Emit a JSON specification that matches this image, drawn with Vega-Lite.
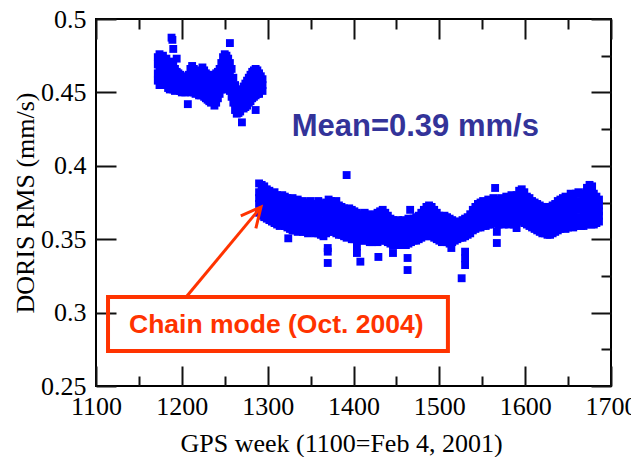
{
"$schema":"https://vega.github.io/schema/vega-lite/v6.json",
"width":515,"height":367,
"autosize":{"type":"none"},
"padding":{"left":96,"top":19,"right":20,"bottom":71},
"background":"white",
"config":{"view":{"stroke":"#000","strokeWidth":2},"axis":{"domain":false,"grid":false,"tickColor":"#111","tickWidth":2,"labelFont":"Liberation Serif","labelFontSize":26,"labelColor":"#000","titleFont":"Liberation Serif","titleFontSize":26,"titleFontWeight":"normal","titleColor":"#000","labelOverlap":false,"labelFlush":false}},
"datasets":{
"pts":[
{"w":1172,"r":0.474},{"w":1172,"r":0.469},{"w":1172,"r":0.463},{"w":1172,"r":0.458},
{"w":1174,"r":0.476},{"w":1174,"r":0.470},{"w":1174,"r":0.465},{"w":1174,"r":0.460},{"w":1174,"r":0.455},
{"w":1176,"r":0.472},{"w":1176,"r":0.466},{"w":1176,"r":0.461},{"w":1176,"r":0.456},
{"w":1178,"r":0.475},{"w":1178,"r":0.468},{"w":1178,"r":0.462},{"w":1178,"r":0.457},
{"w":1180,"r":0.470},{"w":1180,"r":0.464},{"w":1180,"r":0.459},{"w":1180,"r":0.455},
{"w":1182,"r":0.473},{"w":1182,"r":0.466},{"w":1182,"r":0.460},{"w":1182,"r":0.456},
{"w":1184,"r":0.469},{"w":1184,"r":0.463},{"w":1184,"r":0.457},{"w":1184,"r":0.453},
{"w":1186,"r":0.467},{"w":1186,"r":0.461},{"w":1186,"r":0.456},{"w":1186,"r":0.452},
{"w":1188,"r":0.4873},{"w":1189,"r":0.4858},{"w":1188,"r":0.465},{"w":1188,"r":0.459},{"w":1188,"r":0.453},
{"w":1190,"r":0.4796},{"w":1190,"r":0.471},{"w":1190,"r":0.463},{"w":1190,"r":0.457},{"w":1190,"r":0.452},
{"w":1192,"r":0.466},{"w":1192,"r":0.460},{"w":1192,"r":0.455},{"w":1192,"r":0.451},
{"w":1194,"r":0.473},{"w":1194,"r":0.464},{"w":1194,"r":0.458},{"w":1194,"r":0.453},
{"w":1196,"r":0.463},{"w":1196,"r":0.457},{"w":1196,"r":0.452},
{"w":1198,"r":0.462},{"w":1198,"r":0.456},{"w":1198,"r":0.451},
{"w":1200,"r":0.460},{"w":1200,"r":0.455},{"w":1200,"r":0.450},
{"w":1202,"r":0.461},{"w":1202,"r":0.456},{"w":1202,"r":0.451},
{"w":1204,"r":0.459},{"w":1204,"r":0.454},{"w":1204,"r":0.450},
{"w":1206,"r":0.460},{"w":1206,"r":0.455},{"w":1206,"r":0.451},
{"w":1207,"r":0.442},
{"w":1208,"r":0.462},{"w":1208,"r":0.456},{"w":1208,"r":0.451},
{"w":1210,"r":0.466},{"w":1210,"r":0.460},{"w":1210,"r":0.454},{"w":1210,"r":0.450},
{"w":1212,"r":0.468},{"w":1212,"r":0.462},{"w":1212,"r":0.456},{"w":1212,"r":0.451},
{"w":1214,"r":0.466},{"w":1214,"r":0.460},{"w":1214,"r":0.455},{"w":1214,"r":0.450},
{"w":1216,"r":0.463},{"w":1216,"r":0.458},{"w":1216,"r":0.453},{"w":1216,"r":0.449},
{"w":1218,"r":0.461},{"w":1218,"r":0.456},{"w":1218,"r":0.451},
{"w":1220,"r":0.463},{"w":1220,"r":0.457},{"w":1220,"r":0.452},{"w":1220,"r":0.448},
{"w":1222,"r":0.465},{"w":1222,"r":0.459},{"w":1222,"r":0.453},{"w":1222,"r":0.448},
{"w":1224,"r":0.467},{"w":1224,"r":0.461},{"w":1224,"r":0.455},{"w":1224,"r":0.449},
{"w":1226,"r":0.465},{"w":1226,"r":0.459},{"w":1226,"r":0.453},{"w":1226,"r":0.447},
{"w":1228,"r":0.463},{"w":1228,"r":0.457},{"w":1228,"r":0.451},{"w":1228,"r":0.446},
{"w":1230,"r":0.462},{"w":1230,"r":0.456},{"w":1230,"r":0.450},{"w":1230,"r":0.445},
{"w":1232,"r":0.461},{"w":1232,"r":0.455},{"w":1232,"r":0.449},{"w":1232,"r":0.444},
{"w":1234,"r":0.460},{"w":1234,"r":0.454},{"w":1234,"r":0.448},{"w":1234,"r":0.443},
{"w":1236,"r":0.461},{"w":1236,"r":0.455},{"w":1236,"r":0.449},{"w":1236,"r":0.444},
{"w":1238,"r":0.462},{"w":1238,"r":0.455},{"w":1238,"r":0.448},{"w":1238,"r":0.441},
{"w":1240,"r":0.463},{"w":1240,"r":0.456},{"w":1240,"r":0.449},{"w":1240,"r":0.443},
{"w":1242,"r":0.464},{"w":1242,"r":0.457},{"w":1242,"r":0.451},{"w":1242,"r":0.446},
{"w":1244,"r":0.466},{"w":1244,"r":0.460},{"w":1244,"r":0.454},{"w":1244,"r":0.449},
{"w":1246,"r":0.470},{"w":1246,"r":0.464},{"w":1246,"r":0.458},{"w":1246,"r":0.452},
{"w":1248,"r":0.474},{"w":1248,"r":0.467},{"w":1248,"r":0.461},{"w":1248,"r":0.455},
{"w":1250,"r":0.476},{"w":1250,"r":0.469},{"w":1250,"r":0.462},{"w":1250,"r":0.456},{"w":1250,"r":0.452},
{"w":1252,"r":0.475},{"w":1252,"r":0.468},{"w":1252,"r":0.461},{"w":1252,"r":0.455},
{"w":1254,"r":0.473},{"w":1254,"r":0.466},{"w":1254,"r":0.460},{"w":1254,"r":0.454},
{"w":1256,"r":0.4836},{"w":1256,"r":0.470},{"w":1256,"r":0.463},{"w":1256,"r":0.457},{"w":1256,"r":0.451},
{"w":1258,"r":0.466},{"w":1258,"r":0.459},{"w":1258,"r":0.452},{"w":1258,"r":0.447},
{"w":1260,"r":0.460},{"w":1260,"r":0.454},{"w":1260,"r":0.448},{"w":1260,"r":0.443},
{"w":1262,"r":0.455},{"w":1262,"r":0.449},{"w":1262,"r":0.443},{"w":1262,"r":0.438},
{"w":1264,"r":0.452},{"w":1264,"r":0.446},{"w":1264,"r":0.441},{"w":1264,"r":0.4355},
{"w":1266,"r":0.450},{"w":1266,"r":0.445},{"w":1266,"r":0.440},{"w":1266,"r":0.436},
{"w":1268,"r":0.451},{"w":1268,"r":0.446},{"w":1268,"r":0.441},{"w":1268,"r":0.437},
{"w":1270,"r":0.452},{"w":1270,"r":0.447},{"w":1270,"r":0.442},{"w":1270,"r":0.4296},
{"w":1272,"r":0.454},{"w":1272,"r":0.448},{"w":1272,"r":0.443},{"w":1272,"r":0.439},
{"w":1274,"r":0.456},{"w":1274,"r":0.450},{"w":1274,"r":0.445},{"w":1274,"r":0.440},
{"w":1276,"r":0.458},{"w":1276,"r":0.452},{"w":1276,"r":0.446},{"w":1276,"r":0.441},
{"w":1278,"r":0.460},{"w":1278,"r":0.454},{"w":1278,"r":0.448},{"w":1278,"r":0.443},
{"w":1280,"r":0.462},{"w":1280,"r":0.456},{"w":1280,"r":0.450},{"w":1280,"r":0.444},
{"w":1282,"r":0.464},{"w":1282,"r":0.458},{"w":1282,"r":0.452},{"w":1282,"r":0.446},
{"w":1284,"r":0.465},{"w":1284,"r":0.459},{"w":1284,"r":0.453},{"w":1284,"r":0.447},
{"w":1286,"r":0.466},{"w":1286,"r":0.460},{"w":1286,"r":0.454},{"w":1286,"r":0.448},{"w":1286,"r":0.438},
{"w":1288,"r":0.465},{"w":1288,"r":0.459},{"w":1288,"r":0.454},{"w":1288,"r":0.449},
{"w":1290,"r":0.463},{"w":1290,"r":0.458},{"w":1290,"r":0.453},{"w":1290,"r":0.449},
{"w":1292,"r":0.461},{"w":1292,"r":0.456},{"w":1292,"r":0.452},
{"w":1294,"r":0.459},{"w":1294,"r":0.455},{"w":1294,"r":0.451},
{"w":1290,"r":0.368},{"w":1290,"r":0.374},{"w":1290,"r":0.378},{"w":1290,"r":0.382},{"w":1290,"r":0.388},
{"w":1293,"r":0.366},{"w":1293,"r":0.371},{"w":1293,"r":0.376},{"w":1293,"r":0.382},{"w":1293,"r":0.387},
{"w":1296,"r":0.365},{"w":1296,"r":0.371},{"w":1296,"r":0.375},{"w":1296,"r":0.381},{"w":1296,"r":0.386},
{"w":1299,"r":0.364},{"w":1299,"r":0.369},{"w":1299,"r":0.374},{"w":1299,"r":0.379},{"w":1299,"r":0.384},
{"w":1302,"r":0.363},{"w":1302,"r":0.368},{"w":1302,"r":0.373},{"w":1302,"r":0.378},{"w":1302,"r":0.383},
{"w":1305,"r":0.362},{"w":1305,"r":0.367},{"w":1305,"r":0.372},{"w":1305,"r":0.376},{"w":1305,"r":0.381},
{"w":1308,"r":0.361},{"w":1308,"r":0.366},{"w":1308,"r":0.371},{"w":1308,"r":0.377},{"w":1308,"r":0.382},
{"w":1311,"r":0.360},{"w":1311,"r":0.365},{"w":1311,"r":0.370},{"w":1311,"r":0.375},{"w":1311,"r":0.380},
{"w":1314,"r":0.359},{"w":1314,"r":0.364},{"w":1314,"r":0.369},{"w":1314,"r":0.374},{"w":1314,"r":0.379},
{"w":1317,"r":0.360},{"w":1317,"r":0.366},{"w":1317,"r":0.370},{"w":1317,"r":0.375},{"w":1317,"r":0.380},
{"w":1320,"r":0.359},{"w":1320,"r":0.364},{"w":1320,"r":0.369},{"w":1320,"r":0.373},{"w":1320,"r":0.379},
{"w":1323,"r":0.358},{"w":1323,"r":0.363},{"w":1323,"r":0.368},{"w":1323,"r":0.373},{"w":1323,"r":0.378},
{"w":1324,"r":0.3506},
{"w":1326,"r":0.357},{"w":1326,"r":0.362},{"w":1326,"r":0.367},{"w":1326,"r":0.372},{"w":1326,"r":0.377},
{"w":1329,"r":0.356},{"w":1329,"r":0.362},{"w":1329,"r":0.367},{"w":1329,"r":0.373},{"w":1329,"r":0.378},
{"w":1332,"r":0.356},{"w":1332,"r":0.361},{"w":1332,"r":0.366},{"w":1332,"r":0.371},{"w":1332,"r":0.376},
{"w":1335,"r":0.355},{"w":1335,"r":0.361},{"w":1335,"r":0.366},{"w":1335,"r":0.371},{"w":1335,"r":0.377},
{"w":1338,"r":0.356},{"w":1338,"r":0.361},{"w":1338,"r":0.365},{"w":1338,"r":0.370},{"w":1338,"r":0.375},
{"w":1341,"r":0.355},{"w":1341,"r":0.360},{"w":1341,"r":0.366},{"w":1341,"r":0.371},{"w":1341,"r":0.376},
{"w":1344,"r":0.355},{"w":1344,"r":0.360},{"w":1344,"r":0.364},{"w":1344,"r":0.369},{"w":1344,"r":0.374},
{"w":1347,"r":0.354},{"w":1347,"r":0.359},{"w":1347,"r":0.364},{"w":1347,"r":0.370},{"w":1347,"r":0.375},
{"w":1350,"r":0.356},{"w":1350,"r":0.361},{"w":1350,"r":0.366},{"w":1350,"r":0.371},{"w":1350,"r":0.376},
{"w":1353,"r":0.355},{"w":1353,"r":0.360},{"w":1353,"r":0.364},{"w":1353,"r":0.369},{"w":1353,"r":0.374},
{"w":1356,"r":0.354},{"w":1356,"r":0.359},{"w":1356,"r":0.363},{"w":1356,"r":0.368},{"w":1356,"r":0.373},
{"w":1359,"r":0.354},{"w":1359,"r":0.359},{"w":1359,"r":0.365},{"w":1359,"r":0.370},{"w":1359,"r":0.376},
{"w":1362,"r":0.353},{"w":1362,"r":0.358},{"w":1362,"r":0.363},{"w":1362,"r":0.369},{"w":1362,"r":0.374},
{"w":1365,"r":0.352},{"w":1365,"r":0.357},{"w":1365,"r":0.362},{"w":1365,"r":0.368},{"w":1365,"r":0.373},
{"w":1368,"r":0.354},{"w":1368,"r":0.359},{"w":1368,"r":0.364},{"w":1368,"r":0.370},{"w":1368,"r":0.375},
{"w":1370,"r":0.344},{"w":1370,"r":0.3415},{"w":1370,"r":0.3338},
{"w":1371,"r":0.355},{"w":1371,"r":0.361},{"w":1371,"r":0.366},{"w":1371,"r":0.372},{"w":1371,"r":0.377},
{"w":1374,"r":0.356},{"w":1374,"r":0.361},{"w":1374,"r":0.366},{"w":1374,"r":0.371},{"w":1374,"r":0.376},
{"w":1377,"r":0.355},{"w":1377,"r":0.360},{"w":1377,"r":0.365},{"w":1377,"r":0.370},{"w":1377,"r":0.375},
{"w":1380,"r":0.354},{"w":1380,"r":0.360},{"w":1380,"r":0.365},{"w":1380,"r":0.371},{"w":1380,"r":0.376},
{"w":1383,"r":0.353},{"w":1383,"r":0.358},{"w":1383,"r":0.363},{"w":1383,"r":0.368},{"w":1383,"r":0.373},
{"w":1386,"r":0.353},{"w":1386,"r":0.358},{"w":1386,"r":0.362},{"w":1386,"r":0.367},{"w":1386,"r":0.372},
{"w":1389,"r":0.352},{"w":1389,"r":0.357},{"w":1389,"r":0.361},{"w":1389,"r":0.366},{"w":1389,"r":0.371},
{"w":1392,"r":0.351},{"w":1392,"r":0.356},{"w":1392,"r":0.360},{"w":1392,"r":0.365},{"w":1392,"r":0.370},{"w":1392,"r":0.3937},
{"w":1395,"r":0.352},{"w":1395,"r":0.357},{"w":1395,"r":0.361},{"w":1395,"r":0.366},{"w":1395,"r":0.371},
{"w":1398,"r":0.350},{"w":1398,"r":0.355},{"w":1398,"r":0.360},{"w":1398,"r":0.365},{"w":1398,"r":0.370},
{"w":1401,"r":0.350},{"w":1401,"r":0.355},{"w":1401,"r":0.359},{"w":1401,"r":0.364},{"w":1401,"r":0.369},
{"w":1404,"r":0.349},{"w":1404,"r":0.354},{"w":1404,"r":0.358},{"w":1404,"r":0.363},{"w":1404,"r":0.368},{"w":1404,"r":0.3406},{"w":1404,"r":0.345},
{"w":1407,"r":0.349},{"w":1407,"r":0.353},{"w":1407,"r":0.358},{"w":1407,"r":0.362},{"w":1407,"r":0.367},{"w":1408,"r":0.3347},
{"w":1410,"r":0.350},{"w":1410,"r":0.354},{"w":1410,"r":0.358},{"w":1410,"r":0.362},{"w":1410,"r":0.366},
{"w":1413,"r":0.349},{"w":1413,"r":0.354},{"w":1413,"r":0.358},{"w":1413,"r":0.363},{"w":1413,"r":0.368},
{"w":1416,"r":0.349},{"w":1416,"r":0.353},{"w":1416,"r":0.358},{"w":1416,"r":0.362},{"w":1416,"r":0.367},
{"w":1419,"r":0.348},{"w":1419,"r":0.352},{"w":1419,"r":0.357},{"w":1419,"r":0.361},{"w":1419,"r":0.366},
{"w":1422,"r":0.348},{"w":1422,"r":0.352},{"w":1422,"r":0.356},{"w":1422,"r":0.361},{"w":1422,"r":0.365},
{"w":1425,"r":0.349},{"w":1425,"r":0.353},{"w":1425,"r":0.358},{"w":1425,"r":0.362},{"w":1425,"r":0.367},
{"w":1428,"r":0.348},{"w":1428,"r":0.353},{"w":1428,"r":0.358},{"w":1428,"r":0.363},{"w":1428,"r":0.368},{"w":1429,"r":0.3379},
{"w":1431,"r":0.349},{"w":1431,"r":0.354},{"w":1431,"r":0.359},{"w":1431,"r":0.364},{"w":1431,"r":0.369},
{"w":1434,"r":0.350},{"w":1434,"r":0.355},{"w":1434,"r":0.360},{"w":1434,"r":0.365},{"w":1434,"r":0.370},
{"w":1437,"r":0.349},{"w":1437,"r":0.354},{"w":1437,"r":0.358},{"w":1437,"r":0.363},{"w":1437,"r":0.368},
{"w":1440,"r":0.348},{"w":1440,"r":0.352},{"w":1440,"r":0.357},{"w":1440,"r":0.361},{"w":1440,"r":0.366},
{"w":1443,"r":0.347},{"w":1443,"r":0.351},{"w":1443,"r":0.355},{"w":1443,"r":0.360},{"w":1443,"r":0.364},
{"w":1446,"r":0.346},{"w":1446,"r":0.350},{"w":1446,"r":0.354},{"w":1446,"r":0.359},{"w":1446,"r":0.363},{"w":1446,"r":0.3406},
{"w":1449,"r":0.347},{"w":1449,"r":0.351},{"w":1449,"r":0.354},{"w":1449,"r":0.358},{"w":1449,"r":0.362},
{"w":1452,"r":0.346},{"w":1452,"r":0.350},{"w":1452,"r":0.354},{"w":1452,"r":0.359},{"w":1452,"r":0.363},
{"w":1455,"r":0.346},{"w":1455,"r":0.350},{"w":1455,"r":0.354},{"w":1455,"r":0.358},{"w":1455,"r":0.362},
{"w":1458,"r":0.347},{"w":1458,"r":0.351},{"w":1458,"r":0.355},{"w":1458,"r":0.359},{"w":1458,"r":0.363},
{"w":1461,"r":0.346},{"w":1461,"r":0.350},{"w":1461,"r":0.354},{"w":1461,"r":0.358},{"w":1461,"r":0.362},
{"w":1463,"r":0.3372},{"w":1463,"r":0.329},
{"w":1464,"r":0.347},{"w":1464,"r":0.351},{"w":1464,"r":0.355},{"w":1464,"r":0.360},{"w":1464,"r":0.364},{"w":1466,"r":0.370},
{"w":1467,"r":0.348},{"w":1467,"r":0.352},{"w":1467,"r":0.355},{"w":1467,"r":0.359},{"w":1467,"r":0.363},
{"w":1470,"r":0.349},{"w":1470,"r":0.353},{"w":1470,"r":0.356},{"w":1470,"r":0.360},{"w":1470,"r":0.364},
{"w":1473,"r":0.349},{"w":1473,"r":0.353},{"w":1473,"r":0.357},{"w":1473,"r":0.361},{"w":1473,"r":0.365},
{"w":1476,"r":0.350},{"w":1476,"r":0.354},{"w":1476,"r":0.358},{"w":1476,"r":0.362},{"w":1476,"r":0.366},
{"w":1479,"r":0.351},{"w":1479,"r":0.355},{"w":1479,"r":0.359},{"w":1479,"r":0.364},{"w":1479,"r":0.368},
{"w":1482,"r":0.352},{"w":1482,"r":0.356},{"w":1482,"r":0.361},{"w":1482,"r":0.365},{"w":1482,"r":0.370},
{"w":1485,"r":0.352},{"w":1485,"r":0.357},{"w":1485,"r":0.362},{"w":1485,"r":0.367},{"w":1485,"r":0.372},
{"w":1488,"r":0.353},{"w":1488,"r":0.358},{"w":1488,"r":0.363},{"w":1488,"r":0.368},{"w":1488,"r":0.373},
{"w":1491,"r":0.352},{"w":1491,"r":0.357},{"w":1491,"r":0.362},{"w":1491,"r":0.367},{"w":1491,"r":0.372},
{"w":1494,"r":0.351},{"w":1494,"r":0.356},{"w":1494,"r":0.360},{"w":1494,"r":0.365},{"w":1494,"r":0.370},
{"w":1497,"r":0.350},{"w":1497,"r":0.354},{"w":1497,"r":0.359},{"w":1497,"r":0.363},{"w":1497,"r":0.368},
{"w":1500,"r":0.349},{"w":1500,"r":0.353},{"w":1500,"r":0.357},{"w":1500,"r":0.362},{"w":1500,"r":0.366},
{"w":1503,"r":0.348},{"w":1503,"r":0.352},{"w":1503,"r":0.356},{"w":1503,"r":0.361},{"w":1503,"r":0.365},
{"w":1506,"r":0.349},{"w":1506,"r":0.353},{"w":1506,"r":0.357},{"w":1506,"r":0.362},{"w":1506,"r":0.366},
{"w":1509,"r":0.348},{"w":1509,"r":0.352},{"w":1509,"r":0.356},{"w":1509,"r":0.361},{"w":1509,"r":0.365},
{"w":1512,"r":0.347},{"w":1512,"r":0.351},{"w":1512,"r":0.355},{"w":1512,"r":0.360},{"w":1512,"r":0.364},{"w":1514,"r":0.344},
{"w":1515,"r":0.348},{"w":1515,"r":0.352},{"w":1515,"r":0.355},{"w":1515,"r":0.359},{"w":1515,"r":0.363},
{"w":1518,"r":0.349},{"w":1518,"r":0.352},{"w":1518,"r":0.355},{"w":1518,"r":0.359},{"w":1518,"r":0.362},
{"w":1521,"r":0.350},{"w":1521,"r":0.353},{"w":1521,"r":0.356},{"w":1521,"r":0.358},{"w":1521,"r":0.361},
{"w":1524,"r":0.351},{"w":1524,"r":0.354},{"w":1524,"r":0.356},{"w":1524,"r":0.359},{"w":1524,"r":0.362},
{"w":1526,"r":0.3234},
{"w":1527,"r":0.351},{"w":1527,"r":0.354},{"w":1527,"r":0.357},{"w":1527,"r":0.360},{"w":1527,"r":0.363},
{"w":1530,"r":0.352},{"w":1530,"r":0.355},{"w":1530,"r":0.358},{"w":1530,"r":0.361},{"w":1530,"r":0.364},{"w":1530,"r":0.3415},{"w":1530,"r":0.3324},{"w":1530,"r":0.337},
{"w":1533,"r":0.353},{"w":1533,"r":0.356},{"w":1533,"r":0.359},{"w":1533,"r":0.362},{"w":1533,"r":0.365},
{"w":1536,"r":0.354},{"w":1536,"r":0.357},{"w":1536,"r":0.360},{"w":1536,"r":0.364},{"w":1536,"r":0.367},
{"w":1539,"r":0.356},{"w":1539,"r":0.359},{"w":1539,"r":0.363},{"w":1539,"r":0.366},{"w":1539,"r":0.370},
{"w":1542,"r":0.357},{"w":1542,"r":0.361},{"w":1542,"r":0.364},{"w":1542,"r":0.368},{"w":1542,"r":0.372},
{"w":1545,"r":0.358},{"w":1545,"r":0.362},{"w":1545,"r":0.366},{"w":1545,"r":0.370},{"w":1545,"r":0.374},
{"w":1548,"r":0.358},{"w":1548,"r":0.362},{"w":1548,"r":0.366},{"w":1548,"r":0.371},{"w":1548,"r":0.375},
{"w":1551,"r":0.359},{"w":1551,"r":0.363},{"w":1551,"r":0.367},{"w":1551,"r":0.372},{"w":1551,"r":0.376},
{"w":1554,"r":0.359},{"w":1554,"r":0.363},{"w":1554,"r":0.367},{"w":1554,"r":0.371},{"w":1554,"r":0.375},
{"w":1557,"r":0.360},{"w":1557,"r":0.364},{"w":1557,"r":0.368},{"w":1557,"r":0.373},{"w":1557,"r":0.377},
{"w":1560,"r":0.360},{"w":1560,"r":0.364},{"w":1560,"r":0.368},{"w":1560,"r":0.372},{"w":1560,"r":0.376},
{"w":1563,"r":0.361},{"w":1563,"r":0.365},{"w":1563,"r":0.369},{"w":1563,"r":0.374},{"w":1563,"r":0.378},{"w":1565,"r":0.3849},
{"w":1566,"r":0.361},{"w":1566,"r":0.365},{"w":1566,"r":0.369},{"w":1566,"r":0.373},{"w":1566,"r":0.377},{"w":1567,"r":0.355},{"w":1567,"r":0.3474},
{"w":1569,"r":0.360},{"w":1569,"r":0.364},{"w":1569,"r":0.368},{"w":1569,"r":0.372},{"w":1569,"r":0.376},
{"w":1572,"r":0.361},{"w":1572,"r":0.365},{"w":1572,"r":0.369},{"w":1572,"r":0.374},{"w":1572,"r":0.378},
{"w":1575,"r":0.360},{"w":1575,"r":0.364},{"w":1575,"r":0.368},{"w":1575,"r":0.373},{"w":1575,"r":0.377},
{"w":1578,"r":0.361},{"w":1578,"r":0.365},{"w":1578,"r":0.370},{"w":1578,"r":0.374},{"w":1578,"r":0.379},
{"w":1581,"r":0.360},{"w":1581,"r":0.364},{"w":1581,"r":0.369},{"w":1581,"r":0.373},{"w":1581,"r":0.378},
{"w":1584,"r":0.361},{"w":1584,"r":0.366},{"w":1584,"r":0.370},{"w":1584,"r":0.375},{"w":1584,"r":0.380},
{"w":1587,"r":0.360},{"w":1587,"r":0.365},{"w":1587,"r":0.369},{"w":1587,"r":0.374},{"w":1587,"r":0.379},
{"w":1590,"r":0.362},{"w":1590,"r":0.366},{"w":1590,"r":0.371},{"w":1590,"r":0.375},{"w":1590,"r":0.380},{"w":1590,"r":0.3576},
{"w":1593,"r":0.363},{"w":1593,"r":0.368},{"w":1593,"r":0.373},{"w":1593,"r":0.378},{"w":1593,"r":0.383},
{"w":1596,"r":0.362},{"w":1596,"r":0.367},{"w":1596,"r":0.373},{"w":1596,"r":0.378},{"w":1596,"r":0.384},
{"w":1599,"r":0.361},{"w":1599,"r":0.366},{"w":1599,"r":0.371},{"w":1599,"r":0.377},{"w":1599,"r":0.382},
{"w":1602,"r":0.360},{"w":1602,"r":0.365},{"w":1602,"r":0.369},{"w":1602,"r":0.374},{"w":1602,"r":0.379},
{"w":1605,"r":0.359},{"w":1605,"r":0.364},{"w":1605,"r":0.368},{"w":1605,"r":0.373},{"w":1605,"r":0.378},
{"w":1608,"r":0.358},{"w":1608,"r":0.362},{"w":1608,"r":0.367},{"w":1608,"r":0.371},{"w":1608,"r":0.376},
{"w":1611,"r":0.357},{"w":1611,"r":0.361},{"w":1611,"r":0.366},{"w":1611,"r":0.370},{"w":1611,"r":0.375},
{"w":1614,"r":0.356},{"w":1614,"r":0.360},{"w":1614,"r":0.365},{"w":1614,"r":0.369},{"w":1614,"r":0.374},
{"w":1617,"r":0.355},{"w":1617,"r":0.359},{"w":1617,"r":0.364},{"w":1617,"r":0.368},{"w":1617,"r":0.373},
{"w":1620,"r":0.354},{"w":1620,"r":0.358},{"w":1620,"r":0.363},{"w":1620,"r":0.367},{"w":1620,"r":0.372},
{"w":1623,"r":0.354},{"w":1623,"r":0.358},{"w":1623,"r":0.362},{"w":1623,"r":0.367},{"w":1623,"r":0.371},
{"w":1626,"r":0.353},{"w":1626,"r":0.358},{"w":1626,"r":0.362},{"w":1626,"r":0.367},{"w":1626,"r":0.372},
{"w":1629,"r":0.353},{"w":1629,"r":0.357},{"w":1629,"r":0.362},{"w":1629,"r":0.366},{"w":1629,"r":0.371},
{"w":1632,"r":0.354},{"w":1632,"r":0.359},{"w":1632,"r":0.363},{"w":1632,"r":0.368},{"w":1632,"r":0.373},
{"w":1635,"r":0.355},{"w":1635,"r":0.360},{"w":1635,"r":0.364},{"w":1635,"r":0.369},{"w":1635,"r":0.374},
{"w":1638,"r":0.356},{"w":1638,"r":0.361},{"w":1638,"r":0.366},{"w":1638,"r":0.371},{"w":1638,"r":0.376},
{"w":1641,"r":0.357},{"w":1641,"r":0.362},{"w":1641,"r":0.367},{"w":1641,"r":0.372},{"w":1641,"r":0.377},
{"w":1644,"r":0.358},{"w":1644,"r":0.363},{"w":1644,"r":0.368},{"w":1644,"r":0.373},{"w":1644,"r":0.378},
{"w":1647,"r":0.357},{"w":1647,"r":0.363},{"w":1647,"r":0.368},{"w":1647,"r":0.374},{"w":1647,"r":0.379},
{"w":1650,"r":0.358},{"w":1650,"r":0.363},{"w":1650,"r":0.368},{"w":1650,"r":0.373},{"w":1650,"r":0.378},
{"w":1653,"r":0.359},{"w":1653,"r":0.364},{"w":1653,"r":0.370},{"w":1653,"r":0.375},{"w":1653,"r":0.381},
{"w":1656,"r":0.358},{"w":1656,"r":0.363},{"w":1656,"r":0.369},{"w":1656,"r":0.374},{"w":1656,"r":0.380},
{"w":1659,"r":0.359},{"w":1659,"r":0.364},{"w":1659,"r":0.370},{"w":1659,"r":0.375},{"w":1659,"r":0.381},
{"w":1662,"r":0.360},{"w":1662,"r":0.365},{"w":1662,"r":0.371},{"w":1662,"r":0.376},{"w":1662,"r":0.382},
{"w":1665,"r":0.359},{"w":1665,"r":0.364},{"w":1665,"r":0.370},{"w":1665,"r":0.375},{"w":1665,"r":0.381},
{"w":1668,"r":0.359},{"w":1668,"r":0.364},{"w":1668,"r":0.369},{"w":1668,"r":0.375},{"w":1668,"r":0.380},
{"w":1671,"r":0.360},{"w":1671,"r":0.365},{"w":1671,"r":0.371},{"w":1671,"r":0.376},{"w":1671,"r":0.382},{"w":1672,"r":0.385},
{"w":1674,"r":0.361},{"w":1674,"r":0.366},{"w":1674,"r":0.372},{"w":1674,"r":0.377},{"w":1674,"r":0.383},{"w":1675,"r":0.387},
{"w":1677,"r":0.360},{"w":1677,"r":0.365},{"w":1677,"r":0.371},{"w":1677,"r":0.376},{"w":1677,"r":0.382},{"w":1678,"r":0.386},
{"w":1680,"r":0.360},{"w":1680,"r":0.365},{"w":1680,"r":0.370},{"w":1680,"r":0.376},{"w":1680,"r":0.381},
{"w":1683,"r":0.361},{"w":1683,"r":0.365},{"w":1683,"r":0.370},{"w":1683,"r":0.374},{"w":1683,"r":0.379},
{"w":1686,"r":0.362},{"w":1686,"r":0.366},{"w":1686,"r":0.369},{"w":1686,"r":0.373},{"w":1686,"r":0.377}
],
"box":[{"w":1114,"w2":1510,"r":0.2738,"r2":0.3106}],
"arrow":[{"w":1206,"r":0.3113,"w2":1292.2,"r2":0.3719}],
"notes":[{"w":1310,"r":0.2916,"t":"Chain mode (Oct. 2004)","k":"chain"},{"w":1472,"r":0.4264,"t":"Mean=0.39 mm/s","k":"mean"}],
"corner":[{"w":1100,"r":0.25}]
},
"layer":[
{"layer":[
{"data":{"name":"pts"},"mark":{"type":"point","shape":"square","filled":true,"size":62,"color":"#0000FF","opacity":1,"strokeWidth":0},
"encoding":{
"x":{"field":"w","type":"quantitative","scale":{"domain":[1100,1700],"nice":false,"zero":false},
"axis":{"orient":"bottom","values":[1100,1150,1200,1250,1300,1350,1400,1450,1500,1550,1600,1650,1700],
"labelExpr":"datum.value % 100 === 0 ? format(datum.value,'d') : ''",
"tickSize":{"condition":{"test":"datum.value % 100 === 0","value":-20},"value":-10},
"labelPadding":27,"title":"GPS week (1100=Feb 4, 2001)","titleX":245,"titleY":57,"titleBaseline":"middle","titleAlign":"center"}},
"y":{"field":"r","type":"quantitative","scale":{"domain":[0.25,0.5],"nice":false,"zero":false},
"axis":{"orient":"left","values":[0.25,0.275,0.3,0.325,0.35,0.375,0.4,0.425,0.45,0.475,0.5],
"labelExpr":"abs(datum.value*20 - round(datum.value*20)) < 0.001 ? format(datum.value,'~g') : ''",
"tickSize":{"condition":{"test":"abs(datum.value*20 - round(datum.value*20)) < 0.001","value":-20},"value":-10},
"labelPadding":30,"labelBaseline":"middle","title":"DORIS RMS (mm/s)","titleX":-71,"titleBaseline":"middle","titleAlign":"center","titleAngle":-90}}
}},
{"data":{"name":"box"},"mark":{"type":"rect","filled":false,"stroke":"#FF3300","strokeWidth":4},
"encoding":{"x":{"field":"w","type":"quantitative"},"x2":{"field":"w2"},"y":{"field":"r","type":"quantitative"},"y2":{"field":"r2"}}},
{"data":{"name":"arrow"},"mark":{"type":"rule","stroke":"#FF3300","strokeWidth":3},
"encoding":{"x":{"field":"w","type":"quantitative"},"x2":{"field":"w2"},"y":{"field":"r","type":"quantitative"},"y2":{"field":"r2"}}},
{"data":{"name":"arrow"},"mark":{"type":"point","shape":"M-0.5,1L0,0L0.5,1","filled":false,"stroke":"#FF3300","strokeWidth":3,"size":1550,"angle":40,"opacity":1},
"encoding":{"x":{"field":"w2","type":"quantitative"},"y":{"field":"r2","type":"quantitative"}}},
{"data":{"name":"notes"},"mark":{"type":"text","font":"Liberation Sans","fontWeight":"bold","align":"center","baseline":"middle"},
"encoding":{"x":{"field":"w","type":"quantitative"},"y":{"field":"r","type":"quantitative"},"text":{"field":"t"},
"color":{"field":"k","type":"nominal","scale":{"domain":["chain","mean"],"range":["#FF3300","#333399"]},"legend":null},
"size":{"field":"k","type":"nominal","scale":{"domain":["chain","mean"],"range":[26.5,31]},"legend":null}}}
]},
{"data":{"name":"corner"},"mark":{"type":"point","opacity":0},
"encoding":{
"x":{"field":"w","type":"quantitative","scale":{"domain":[1100,1700],"nice":false,"zero":false},
"axis":{"orient":"top","values":[1100,1150,1200,1250,1300,1350,1400,1450,1500,1550,1600,1650,1700],"labels":false,"title":null,
"tickSize":{"condition":{"test":"datum.value % 100 === 0","value":-20},"value":-10}}},
"y":{"field":"r","type":"quantitative","scale":{"domain":[0.25,0.5],"nice":false,"zero":false},
"axis":{"orient":"right","values":[0.25,0.275,0.3,0.325,0.35,0.375,0.4,0.425,0.45,0.475,0.5],"labels":false,"title":null,
"tickSize":{"condition":{"test":"abs(datum.value*20 - round(datum.value*20)) < 0.001","value":-20},"value":-10}}}
}}
],
"resolve":{"scale":{"x":"independent","y":"independent"},"axis":{"x":"independent","y":"independent"}}
}
